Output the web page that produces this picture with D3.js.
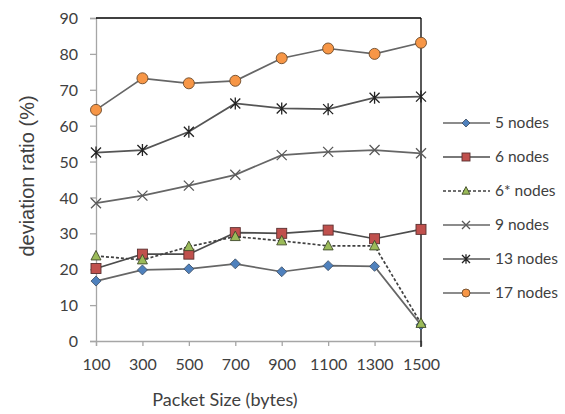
<!DOCTYPE html>
<html>
<head>
<meta charset="utf-8">
<script src="https://cdn.jsdelivr.net/npm/d3@7"></script>
<style>
  body { margin: 0; background: #fff; }
  svg { display: block; }
  text { fill: #404040; }
</style>
</head>
<body>
<svg id="chart" width="565" height="414"></svg>
<script>
// data
const packetSizes = ['100', '300', '500', '700', '900', '1100', '1300', '1500']
const yTicks = [0, 10, 20, 30, 40, 50, 60, 70, 80, 90]

const nodes5 = [16.7, 19.8, 20.1, 21.5, 19.3, 21.0, 20.8, 4.5]
const nodes6 = [20.2, 24.2, 24.2, 30.2, 30.0, 30.9, 28.5, 31.1]
const nodes6s = [23.7, 22.6, 26.3, 29.1, 27.9, 26.5, 26.5, 4.9]
const nodes9 = [38.4, 40.5, 43.3, 46.3, 51.8, 52.7, 53.2, 52.3]
const nodes13 = [52.5, 53.2, 58.3, 66.2, 64.8, 64.6, 67.8, 68.1]
const nodes17 = [64.4, 73.2, 71.8, 72.5, 78.8, 81.5, 80.0, 83.1]

const series = [
  { name: '5 nodes', data: nodes5, marker: 'diamond', fill: '#4f81bd', line: '#666', dash: null },
  { name: '6 nodes', data: nodes6, marker: 'square', fill: '#c0504d', line: '#4d4d4d', dash: null },
  { name: '6* nodes', data: nodes6s, marker: 'triangle', fill: '#9bbb59', line: '#404040', dash: '3,2' },
  { name: '9 nodes', data: nodes9, marker: 'x', fill: 'none', line: '#666', dash: null },
  { name: '13 nodes', data: nodes13, marker: 'star', fill: 'none', line: '#555', dash: null },
  { name: '17 nodes', data: nodes17, marker: 'circle', fill: '#f79646', line: '#666', dash: null },
]

const svg = d3.select('#chart')
const plotL = 96, plotR = 421, plotT = 18, plotB = 341
const font = 'Lato, "Open Sans", sans-serif'

const x = d3.scalePoint().domain(packetSizes).range([plotL, plotR])
const y = d3.scaleLinear().domain([0, 90]).range([plotB, plotT])

const yAxis = svg.append('g')
  .attr('transform', `translate(${plotL},0)`)
  .call(d3.axisLeft(y).tickValues(yTicks).tickSize(6).tickPadding(12))
const xAxis = svg.append('g')
  .attr('transform', `translate(0,${plotB})`)
  .call(d3.axisBottom(x).tickSize(5).tickPadding(13))

for (let ax of [xAxis, yAxis]) {
  ax.select('.domain').attr('stroke', '#a6a6a6').attr('stroke-width', 1.3)
  ax.selectAll('.tick line').attr('stroke', '#a6a6a6').attr('stroke-width', 1.3)
  ax.selectAll('text')
    .attr('font-family', font)
    .attr('font-size', 16)
    .style('fill', '#404040')
}
yAxis.selectAll('text').attr('dy', '0.35em')

// frame: top and right are black, axes gray
svg.append('line')
  .attr('x1', plotL).attr('x2', plotR).attr('y1', plotT).attr('y2', plotT)
  .attr('stroke', '#000').attr('stroke-width', 1.3)
svg.append('line')
  .attr('x1', plotR).attr('x2', plotR).attr('y1', plotT).attr('y2', plotB + 6)
  .attr('stroke', '#000').attr('stroke-width', 1.3)

svg.append('text')
  .attr('x', 225).attr('y', 406)
  .attr('text-anchor', 'middle')
  .attr('font-family', font)
  .attr('font-size', 18)
  .text('Packet Size (bytes)')

svg.append('text')
  .attr('transform', 'translate(34,176) rotate(-90)')
  .attr('text-anchor', 'middle')
  .attr('font-family', '"Liberation Sans", Arial, sans-serif')
  .attr('font-size', 20)
  .text('deviation ratio (%)')

function drawMarker(g, type, fill, size) {
  let s = size
  if (type === 'diamond') {
    g.append('path').attr('d', `M0,${-s}L${s},0L0,${s}L${-s},0Z`)
      .attr('fill', fill).attr('stroke', '#3a4a5e').attr('stroke-width', 0.8)
  } else if (type === 'square') {
    g.append('rect').attr('x', -s).attr('y', -s).attr('width', 2 * s).attr('height', 2 * s)
      .attr('fill', fill).attr('stroke', '#5a3030').attr('stroke-width', 0.9)
  } else if (type === 'triangle') {
    g.append('path').attr('d', `M0,${-s * 1.1}L${s},${s * 0.8}L${-s},${s * 0.8}Z`)
      .attr('fill', fill).attr('stroke', '#3f4a2a').attr('stroke-width', 0.9)
  } else if (type === 'x') {
    g.append('path').attr('d', `M${-s},${-s}L${s},${s}M${-s},${s}L${s},${-s}`)
      .attr('stroke', '#595959').attr('stroke-width', 1.3)
  } else if (type === 'star') {
    g.append('path').attr('d', `M${-s},${-s}L${s},${s}M${-s},${s}L${s},${-s}M0,${-s * 1.2}L0,${s * 1.2}`)
      .attr('stroke', '#222').attr('stroke-width', 1.3)
  } else if (type === 'circle') {
    g.append('circle').attr('r', s)
      .attr('fill', fill).attr('stroke', '#6b4a2a').attr('stroke-width', 0.9)
  }
}

const markerSize = { diamond: 5, square: 5, triangle: 5, x: 5, star: 5, circle: 5.5 }

const line = d3.line()
  .x((d, i) => x(packetSizes[i]))
  .y(d => y(d))

series.forEach(s => {
  const g = svg.append('g').attr('class', 'series')
  g.append('path')
    .attr('d', line(s.data))
    .attr('fill', 'none')
    .attr('stroke', s.line)
    .attr('stroke-width', 1.7)
    .attr('stroke-dasharray', s.dash)
  g.selectAll('g.pt')
    .data(s.data)
    .join('g')
    .attr('class', 'pt')
    .attr('transform', (d, i) => `translate(${x(packetSizes[i])},${y(d)})`)
    .each(function () {
      drawMarker(d3.select(this), s.marker, s.fill, markerSize[s.marker])
    })
})

// legend
const legend = svg.append('g').attr('class', 'legend')
series.forEach((s, i) => {
  const ly = 123 + i * 34
  const item = legend.append('g').attr('transform', `translate(0,${ly})`)
  item.append('line')
    .attr('x1', 443).attr('x2', 490).attr('y1', 0).attr('y2', 0)
    .attr('stroke', s.line).attr('stroke-width', 1.6)
    .attr('stroke-dasharray', s.dash)
  const m = item.append('g').attr('transform', 'translate(466,0)')
  drawMarker(m, s.marker, s.fill, 4)
  item.append('text')
    .attr('x', 495).attr('y', 0).attr('dy', '0.35em')
    .attr('font-family', font)
    .attr('font-size', 15.5)
    .text(s.name)
})
</script>
</body>
</html>
